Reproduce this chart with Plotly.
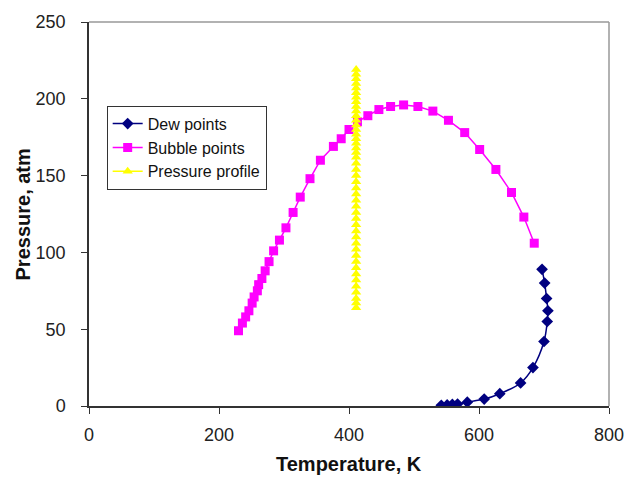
import plotly.graph_objects as go

dew_T = [542, 551, 559, 567, 582, 608, 632, 664, 683, 700, 705, 706, 704, 701, 697]
dew_P = [0.5, 0.7, 1.0, 1.3, 2.5, 4.5, 8, 15, 25, 42, 55, 62, 70, 80, 89]

bub_T = [230, 236, 241, 246, 251, 254, 259, 261, 266, 271, 277, 284, 293, 303, 314,
         325, 340, 356, 376, 388, 400, 413, 429, 446, 464, 484, 506, 529, 553, 578,
         601, 626, 650, 669, 685]
bub_P = [49, 54, 58, 62, 67, 71, 75, 79, 83, 88, 94, 101, 108, 116, 126,
         136, 148, 160, 169, 174, 180, 185, 189, 193, 195, 196, 195, 192, 186, 178,
         167, 154, 139, 123, 106]

prof_P = [64, 67, 70, 74, 78, 82, 86, 90, 94, 98, 102, 106, 110, 114, 118, 122, 126,
          130, 134, 138, 142, 146, 150, 154, 158, 162, 165, 168, 171, 174, 177, 180,
          183, 186, 189, 192, 195, 198, 201, 204, 207, 210, 213, 216, 219]
prof_T = [411, 411, 411, 411, 411, 411, 411, 411, 411, 411, 411, 411, 411, 411, 411,
          411, 411, 411, 411, 411, 411, 411, 411, 411, 411, 411, 411, 411, 411, 411,
          411, 411, 411, 411, 411, 411, 411, 411, 411, 411, 411, 411, 411, 411, 411]

x_ticks = [0, 200, 400, 600, 800]
y_ticks = [0, 50, 100, 150, 200, 250]
x_title = "Temperature, K"
y_title = "Pressure, atm"

fig = go.Figure()
fig.add_trace(go.Scatter(x=dew_T, y=dew_P, mode="lines+markers", name="Dew points",
                         line=dict(color="#000080", width=1.5, shape="spline"),
                         marker=dict(symbol="diamond", size=9, color="#000080")))
fig.add_trace(go.Scatter(x=bub_T, y=bub_P, mode="lines+markers", name="Bubble points",
                         line=dict(color="#FF00FF", width=1.5),
                         marker=dict(symbol="square", size=9, color="#FF00FF")))
fig.add_trace(go.Scatter(x=prof_T, y=prof_P, mode="lines+markers", name="Pressure profile",
                         line=dict(color="#FFFF00", width=1.5),
                         marker=dict(symbol="triangle-up", size=9, color="#FFFF00")))

font_family = "Liberation Sans, Arial, sans-serif"
fig.update_layout(
    width=626, height=477,
    margin=dict(l=88.5, r=17, t=22, b=71.3, autoexpand=False),
    paper_bgcolor="white", plot_bgcolor="white",
    font=dict(family=font_family, color="#222", size=18),
    showlegend=True,
    legend=dict(x=0.034, y=0.782, xanchor="left", yanchor="top",
                bordercolor="#333", borderwidth=1, bgcolor="white",
                font=dict(size=16, color="#111"), itemwidth=30,
                tracegroupgap=0),
    xaxis=dict(range=[0, 800], tickvals=x_ticks, showgrid=False, zeroline=False,
               showline=True, linecolor="#333", linewidth=1.5,
               ticks="outside", ticklen=6, tickcolor="#333",
               ticklabelstandoff=6, automargin=False),
    yaxis=dict(range=[0, 250], tickvals=y_ticks, showgrid=False, zeroline=False,
               showline=True, linecolor="#333", linewidth=1.5,
               ticks="outside", ticklen=6, tickcolor="#333",
               ticklabelstandoff=12, automargin=False),
    annotations=[
        dict(text="<b>" + x_title + "</b>", xref="paper", yref="paper",
             x=0.5, y=-0.152, xanchor="center", yanchor="middle", showarrow=False,
             font=dict(size=20, color="#111")),
        dict(text="<b>" + y_title + "</b>", xref="paper", yref="paper",
             x=-0.126, y=0.5, xanchor="center", yanchor="middle", showarrow=False,
             textangle=-90, font=dict(size=20, color="#111")),
    ],
    shapes=[
        dict(type="line", xref="paper", yref="paper", x0=0, x1=1, y0=1, y1=1,
             line=dict(color="#999", width=1.5)),
        dict(type="line", xref="paper", yref="paper", x0=1, x1=1, y0=0, y1=1,
             line=dict(color="#999", width=1.5)),
    ],
)

fig.write_html("out.html")
